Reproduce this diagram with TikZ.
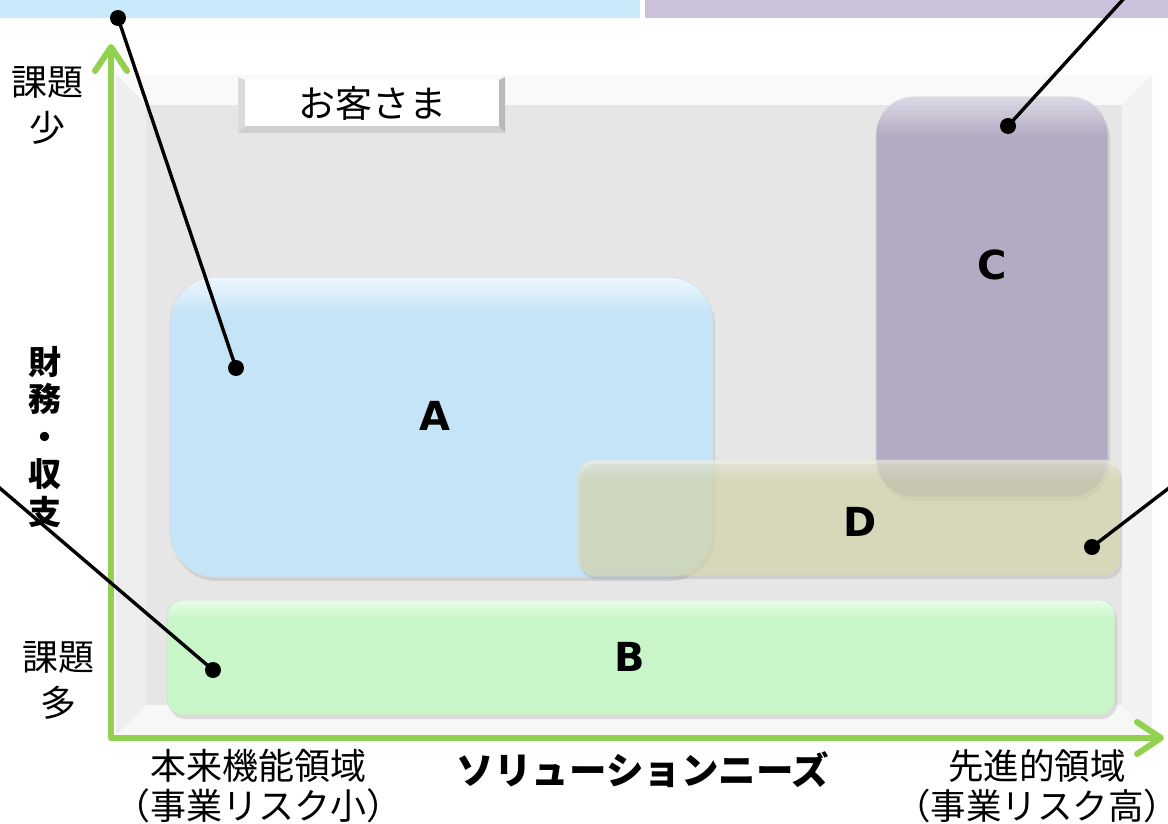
\documentclass[tikz,border=0pt]{standalone}
\usepackage{fontspec}
\setmainfont{DejaVu Sans}
\newfontfamily\jp{Noto Sans CJK JP}
\usetikzlibrary{arrows.meta,shadows}
\definecolor{stripA}{HTML}{C9EAFB}
\definecolor{stripC}{HTML}{CBC1DB}
\definecolor{panel}{HTML}{E6E6E6}
\definecolor{boxA}{HTML}{C6E4F8}
\definecolor{boxB}{HTML}{C8F6C8}
\definecolor{boxC}{HTML}{B3AAC3}
\definecolor{boxD}{HTML}{DCDCAE}
\definecolor{axisgreen}{HTML}{92D050}
\pgfdeclareverticalshading{glossA}{100bp}{color(0bp)=(boxA); color(69bp)=(boxA); color(75bp)=(white!70!boxA); color(100bp)=(white!70!boxA)}
\pgfdeclareverticalshading{glossC}{100bp}{color(0bp)=(boxC); color(70bp)=(boxC); color(75bp)=(white!55!boxC); color(100bp)=(white!55!boxC)}
\pgfdeclareverticalshading{glossB}{100bp}{color(0bp)=(boxB); color(67bp)=(boxB); color(75bp)=(white!60!boxB); color(100bp)=(white!60!boxB)}
\pgfdeclareverticalshading{glossD}{100bp}{color(0bp)=(boxD); color(66bp)=(boxD); color(75bp)=(white!60!boxD); color(100bp)=(white!60!boxD)}
\tikzset{
  region/.style={rectangle, inner sep=0pt, draw=white!70!gray, line width=0.6pt,
    drop shadow={opacity=0.22, shadow xshift=2pt, shadow yshift=-4pt}},
  letter/.style={font=\bfseries\fontsize{40}{44}\selectfont, inner sep=0pt},
  jplabel/.style={font=\jp\fontsize{36}{46}\selectfont, align=center, inner sep=0pt},
  dot/.style={circle, fill=black, inner sep=0pt, minimum size=16pt},
  conn/.style={line width=3.4pt, black},
  axis/.style={line width=6pt, axisgreen, line cap=round, line join=round}
}
\begin{document}
\begin{tikzpicture}[x=1pt,y=-1pt]
\useasboundingbox (0,0) rectangle (1168,824);
\fill[white] (0,0) rectangle (1168,824);
% top strips
\fill[stripA] (0,0) rectangle (640,18);
\fill[stripC] (645,0) rectangle (1168,18);
% bevelled panel
\fill[panel] (116,75) rectangle (1152,735);
\fill[white!95!gray] (116,75) -- (1152,75) -- (1122,105) -- (146,105) -- cycle;
\fill[white!86!gray] (116,75) -- (146,105) -- (146,705) -- (116,735) -- cycle;
\fill[white!90!gray] (1152,75) -- (1152,735) -- (1122,705) -- (1122,105) -- cycle;
\fill[white!94!gray] (116,735) -- (146,705) -- (1122,705) -- (1152,735) -- cycle;
\fill[panel] (146,105) rectangle (1122,705);
% customer button
\fill[white!96!gray] (238,77) -- (505,77) -- (499,80) -- (245,80) -- cycle;
\fill[white!72!gray] (238,77) -- (245,80) -- (245,126) -- (238,133) -- cycle;
\fill[white!45!gray] (505,77) -- (505,133) -- (499,126) -- (499,80) -- cycle;
\fill[white!62!gray] (238,133) -- (245,126) -- (499,126) -- (505,133) -- cycle;
\node[jplabel, font=\jp\fontsize{37}{40}\selectfont, fill=white, minimum width=254pt, minimum height=46pt, anchor=north west] (cust) at (245,80) {お客さま};
% regions
\node[region, shading=glossA, rounded corners=45pt, minimum width=543pt, minimum height=300pt] (A) at (441.5,427) {};
\node[region, shading=glossC, rounded corners=38pt, minimum width=232pt, minimum height=400pt] (C) at (992,297) {};
\node[region, shading=glossB, rounded corners=16pt, minimum width=948pt, minimum height=115pt] (B) at (641,657.5) {};
\node[region, shading=glossD, fill opacity=0.62, draw opacity=0.6, rounded corners=16pt, minimum width=542pt, minimum height=115pt] (D) at (849,517.5) {};
\node[letter] (lA) at (435,416) {A};
\node[letter] (lC) at (992,265) {C};
\node[letter] (lD) at (860,522) {D};
\node[letter] (lB) at (630,657) {B};
% axes
\coordinate (ytop) at (111,44);
\coordinate (origin) at (111,738);
\coordinate (xend) at (1164,738);
\draw[axis, {Straight Barb[length=24pt,width=32pt,round]}-{Straight Barb[length=24pt,width=32pt,round]}] (ytop) -- (origin) -- (xend);
% connectors
\node[dot] (dA) at (236,368) {};
\node[dot] (dAtop) at (118,18) {};
\node[dot] (dC) at (1008,126) {};
\node[dot] (dD) at (1092,547) {};
\node[dot] (dB) at (213,670) {};
\coordinate (eC) at (1128,-6);
\coordinate (eD) at (1182,478);
\coordinate (eB) at (-12,478);
\draw[conn] (dA.center) -- (dAtop.center);
\draw[conn] (dC.center) -- (eC);
\draw[conn] (dD.center) -- (eD);
\draw[conn] (dB.center) -- (eB);
% axis labels
\node[jplabel] (few) at (48,105) {課題\\少};
\node[jplabel, font=\jp\bfseries\fontsize{33}{37.5}\selectfont] (fin) at (45,437) {財\\務\\・\\収\\支};
\node[jplabel] (many) at (58,680) {課題\\多};
\node[jplabel, font=\jp\fontsize{36}{40}\selectfont] (left) at (258,786) {本来機能領域\\（事業リスク小）};
\node[jplabel, font=\jp\bfseries\fontsize{37.5}{40}\selectfont] (needs) at (643,770) {ソリューションニーズ};
\node[jplabel, font=\jp\fontsize{35.5}{40}\selectfont] (right) at (1037,786) {先進的領域\\（事業リスク高）};
\end{tikzpicture}
\end{document}
